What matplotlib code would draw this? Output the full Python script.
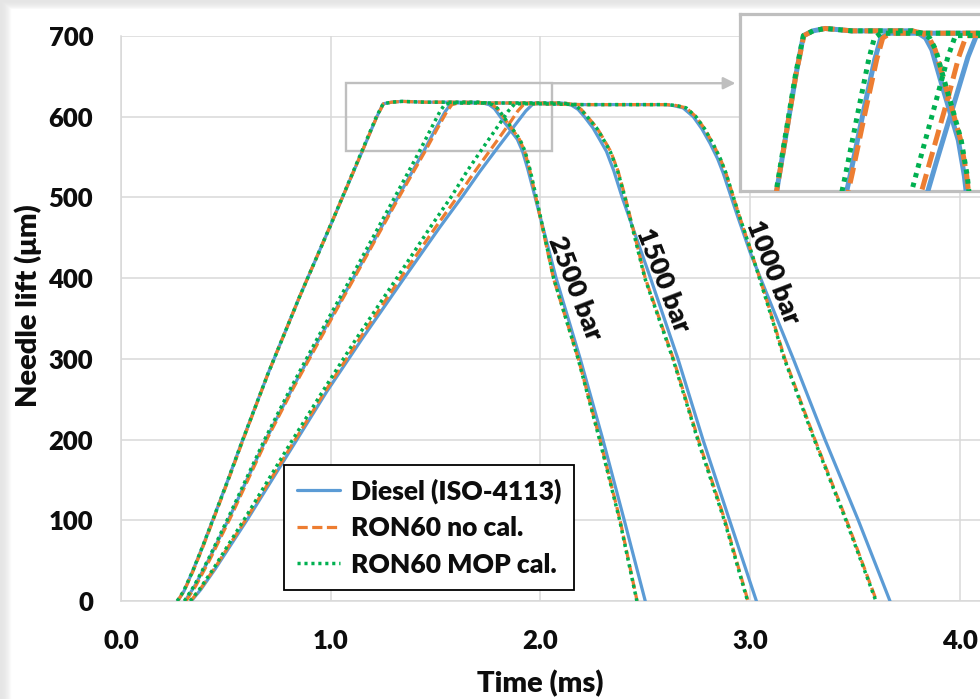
import matplotlib
matplotlib.use("Agg")
import matplotlib.pyplot as plt
import numpy as np
from matplotlib.patches import Rectangle

plt.rcParams['font.family'] = ['Lato', 'DejaVu Sans']
plt.rcParams['font.weight'] = 'heavy'
FW = 'heavy'

# ---------------- data: needle lift traces (time in ms, lift in um) ----------------
fuels = ["Diesel (ISO-4113)", "RON60 no cal.", "RON60 MOP cal."]
pressures = ["2500 bar", "1500 bar", "1000 bar"]

# 2500 bar
t_2500_diesel = [0.27, 0.30, 0.34, 0.39, 0.44, 0.51, 0.575, 0.70, 0.85, 1.00, 1.15, 1.22, 1.25, 1.29, 1.34, 1.45,
                 1.60, 1.70, 1.725, 1.755, 1.781, 1.823, 1.858, 1.89, 1.915, 1.94, 1.972, 2.075, 2.19, 2.298, 2.40, 2.50]
h_2500_diesel = [0, 12, 36, 68, 102, 150, 196, 281, 376, 466, 557, 600, 616, 618, 619, 618,
                 618, 618, 617, 615, 610, 595, 583, 572, 557, 535, 503, 400, 300, 200, 100, 0]
t_2500_nocal = [0.27, 0.30, 0.342, 0.392, 0.442, 0.512, 0.577, 0.70, 0.85, 1.00, 1.15, 1.22, 1.252, 1.29, 1.34, 1.45,
                1.60, 1.70, 1.74, 1.77, 1.795, 1.836, 1.87, 1.90, 1.925, 1.948, 1.976, 2.062, 2.181, 2.284, 2.38, 2.461]
h_2500_nocal = [0, 12, 36, 68, 102, 150, 196, 281, 376, 466, 557, 600, 616, 618, 619, 618,
                618, 618, 617, 615, 610, 595, 583, 572, 557, 535, 503, 400, 300, 200, 100, 0]
t_2500_mop = [0.268, 0.298, 0.34, 0.39, 0.44, 0.51, 0.575, 0.70, 0.85, 1.00, 1.148, 1.218, 1.25, 1.29, 1.34, 1.45,
              1.60, 1.70, 1.742, 1.772, 1.797, 1.838, 1.872, 1.902, 1.927, 1.95, 1.978, 2.063, 2.18, 2.282, 2.378, 2.46]
h_2500_mop = [0, 12, 36, 68, 102, 150, 196, 281, 376, 466, 557, 600, 616, 618, 619, 618,
              618, 618, 617, 615, 610, 595, 583, 572, 557, 535, 503, 400, 300, 200, 100, 0]

# 1500 bar
t_1500_diesel = [0.305, 0.35, 0.42, 0.52, 0.60, 0.691, 0.814, 0.95, 1.108, 1.32, 1.445, 1.50, 1.545, 1.57, 1.60, 1.70,
                 1.85, 2.00, 2.10, 2.125, 2.15, 2.18, 2.21, 2.251, 2.28, 2.315, 2.35, 2.39, 2.525, 2.656, 2.775, 2.902, 3.03]
h_1500_diesel = [0, 18, 52, 105, 150, 200, 262, 327, 400, 500, 558, 585, 606, 615, 617, 617,
                 617, 617, 617, 616, 614, 609, 600, 586, 573, 557, 533, 500, 400, 300, 200, 100, 0]
t_1500_nocal = [0.31, 0.355, 0.425, 0.525, 0.605, 0.695, 0.818, 0.955, 1.112, 1.325, 1.452, 1.508, 1.553, 1.578, 1.61, 1.70,
                1.85, 2.00, 2.10, 2.14, 2.165, 2.195, 2.225, 2.27, 2.30, 2.335, 2.37, 2.405, 2.50, 2.634, 2.753, 2.88, 2.99]
h_1500_nocal = [0, 18, 52, 105, 150, 200, 262, 327, 400, 500, 558, 585, 606, 615, 617, 617,
                617, 617, 617, 616, 614, 609, 600, 586, 573, 557, 533, 500, 400, 300, 200, 100, 0]
t_1500_mop = [0.302, 0.347, 0.417, 0.515, 0.595, 0.685, 0.806, 0.94, 1.096, 1.305, 1.425, 1.478, 1.52, 1.543, 1.57, 1.70,
              1.85, 2.00, 2.10, 2.138, 2.163, 2.193, 2.223, 2.268, 2.298, 2.333, 2.368, 2.403, 2.498, 2.632, 2.75, 2.877, 2.988]
h_1500_mop = [0, 18, 52, 105, 150, 200, 262, 327, 400, 500, 558, 585, 606, 615, 617, 617,
              617, 617, 617, 616, 614, 609, 600, 586, 573, 557, 533, 500, 400, 300, 200, 100, 0]

# 1000 bar
t_1000_diesel = [0.335, 0.38, 0.45, 0.52, 0.605, 0.71, 0.82, 0.98, 1.15, 1.35, 1.52, 1.63, 1.711, 1.80, 1.88, 1.93,
                 1.965, 2.0, 2.2, 2.4, 2.6, 2.63, 2.68, 2.729, 2.77, 2.809, 2.845, 2.872, 2.936, 3.0, 3.104, 3.206,
                 3.357, 3.516, 3.667]
h_1000_diesel = [0, 14, 40, 68, 102, 146, 192, 259, 325, 400, 463, 502, 532, 563, 590, 607,
                 616, 616, 615, 615, 615, 614, 611, 600, 585, 567, 548, 530, 480, 432, 365, 300,
                 200, 100, 0]
t_1000_nocal = [0.332, 0.376, 0.445, 0.514, 0.598, 0.703, 0.812, 0.972, 1.138, 1.333, 1.50, 1.608, 1.687, 1.773, 1.848, 1.892,
                1.923, 2.0, 2.2, 2.4, 2.6, 2.645, 2.695, 2.742, 2.783, 2.822, 2.858, 2.885, 2.945, 3.0, 3.079, 3.166,
                3.309, 3.46, 3.603]
h_1000_nocal = [0, 14, 40, 68, 102, 146, 192, 259, 325, 400, 463, 502, 532, 563, 590, 607,
                616, 616, 615, 615, 615, 614, 611, 600, 585, 567, 548, 530, 480, 437, 373, 300,
                200, 100, 0]
t_1000_mop = [0.33, 0.373, 0.441, 0.508, 0.59, 0.693, 0.80, 0.96, 1.122, 1.315, 1.475, 1.578, 1.649, 1.73, 1.802, 1.847,
              1.878, 2.0, 2.2, 2.4, 2.6, 2.645, 2.695, 2.742, 2.783, 2.822, 2.858, 2.885, 2.945, 3.0, 3.077, 3.163,
              3.306, 3.457, 3.60]
h_1000_mop = [0, 14, 40, 68, 102, 146, 192, 259, 325, 400, 463, 502, 532, 563, 590, 607,
              616, 616, 615, 615, 615, 614, 611, 600, 585, 567, 548, 530, 480, 437, 373, 300,
              200, 100, 0]

x_ticks = [0, 1, 2, 3, 4]
x_ticklabels = ["0.0", "1.0", "2.0", "3.0", "4.0"]
y_ticks = [0, 100, 200, 300, 400, 500, 600, 700]

# pressure annotations: (x, y) anchor in data units
label_pos = {"2500 bar": (2.165, 388), "1500 bar": (2.586, 397), "1000 bar": (3.11, 408)}

traces = {
    "2500 bar": [(t_2500_diesel, h_2500_diesel), (t_2500_nocal, h_2500_nocal), (t_2500_mop, h_2500_mop)],
    "1500 bar": [(t_1500_diesel, h_1500_diesel), (t_1500_nocal, h_1500_nocal), (t_1500_mop, h_1500_mop)],
    "1000 bar": [(t_1000_diesel, h_1000_diesel), (t_1000_nocal, h_1000_nocal), (t_1000_mop, h_1000_mop)],
}

# ---------------- styling ----------------
colors = ["#5B9BD5", "#ED7D31", "#00B050"]
styles = ["-", (0, (3.2, 1.4)), (0, (0.9, 1.1))]
caps = ["round", "butt", "butt"]
widths = [2.3, 2.3, 2.5]
grid_c = "#D9D9D9"
frame_c = "#BFBFBF"
txt_c = "#0d0d0d"

W, H = 980, 699
fig = plt.figure(figsize=(W / 100, H / 100), dpi=100)

# soft drop shadow along the top and left edges
bg = fig.add_axes([0, 0, 1, 1], zorder=-10)
img = np.ones((H, W, 3))
for i in range(9):
    v = 0.90 + 0.1 * (i / 9) ** 2
    img[i, :, :] = np.minimum(img[i, :, :], v)
for j in range(11):
    v = 0.90 + 0.1 * (j / 11) ** 2
    img[:, j, :] = np.minimum(img[:, j, :], v)
bg.imshow(img, extent=[0, W, H, 0], aspect='auto', interpolation='bilinear')
bg.axis('off')

px_per_ms = 209.7
ax = fig.add_axes([121 / W, (H - 601) / H, (W - 121) / W, 565 / H])
ax.set_xlim(0, (W - 121) / px_per_ms)
ax.set_ylim(0, 700)
ax.set_facecolor("none")
ax.set_xticks(x_ticks)
ax.set_xticklabels(x_ticklabels)
ax.set_yticks(y_ticks)
ax.grid(True, color=grid_c, lw=1.1)
ax.set_axisbelow(True)
for s in ["top", "right"]:
    ax.spines[s].set_visible(False)
for s in ["left", "bottom"]:
    ax.spines[s].set_color(grid_c)
    ax.spines[s].set_linewidth(1.1)
ax.tick_params(length=0, pad=20, labelsize=18.5, labelcolor=txt_c)
for lab in ax.get_xticklabels() + ax.get_yticklabels():
    lab.set_fontweight(FW)

handles = []
for p in pressures:
    for k, (t, h) in enumerate(traces[p]):
        ln, = ax.plot(t, h, color=colors[k], ls=styles[k], lw=widths[k], zorder=3 + k,
                      dash_capstyle=caps[k], solid_capstyle='round')
        if p == pressures[0]:
            handles.append(ln)

for p in pressures:
    x, y = label_pos[p]
    ax.text(x, y, p, rotation=-69, rotation_mode='anchor', ha='center', va='center',
            fontsize=19.5, fontweight=FW, color=txt_c, zorder=8)

# zoom window and pointer to the detail view
ax.add_patch(Rectangle((1.074, 557.6), 0.982, 83.9, fill=False, ec=frame_c, lw=1.7, zorder=2))
ax.annotate('', xy=(2.93, 641.5), xytext=(2.056, 641.5),
            arrowprops=dict(arrowstyle='-|>', color=frame_c, lw=1.7, mutation_scale=18,
                            shrinkA=0, shrinkB=0), zorder=2)

leg = ax.legend(handles, fuels, loc='upper left', bbox_to_anchor=(0.19, 0.2407), borderaxespad=0,
                frameon=True, fancybox=False, edgecolor='black', framealpha=1, fontsize=19,
                handlelength=1.6, handletextpad=0.42, labelspacing=0.47, borderpad=0.5)
leg.get_frame().set_linewidth(1.3)
for t in leg.get_texts():
    t.set_color(txt_c)
    t.set_fontweight(FW)

fig.text(540 / W, 1 - 684 / H, "Time (ms)", ha='center', va='center', fontsize=21,
         fontweight=FW, color=txt_c)
fig.text(28 / W, 1 - 306 / H, "Needle lift (\u03bcm)", ha='center', va='center', rotation=90,
         fontsize=21, fontweight=FW, color=txt_c)

# detail view of the opening/closing transitions near full lift
in_px_per_ms = 242.0
in_w = 300
axin = fig.add_axes([740 / W, (H - 191) / H, in_w / W, 177.5 / H], zorder=10)
axin.set_xlim(0.988, 0.988 + in_w / in_px_per_ms)
axin.set_ylim(550.6, 625.3)
axin.set_xticks([])
axin.set_yticks([])
axin.set_facecolor('white')
for s in axin.spines.values():
    s.set_color(frame_c)
    s.set_linewidth(2.3)
for p in pressures:
    for k, (t, h) in enumerate(traces[p]):
        axin.plot(t, h, color=colors[k], ls=styles[k], lw=3.6, zorder=3 + k,
                  dash_capstyle=caps[k], solid_capstyle='round')

fig.savefig("out.png", dpi=100)
